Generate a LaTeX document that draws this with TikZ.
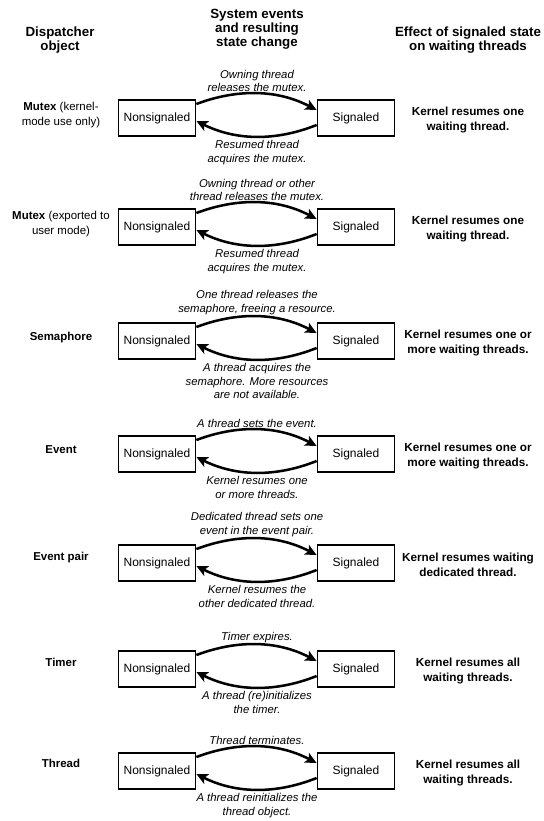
\documentclass[tikz,border=0pt]{standalone}
\usepackage{fontspec}
\setmainfont{Liberation Sans}
\usetikzlibrary{arrows.meta,calc}
\begin{document}
\begin{tikzpicture}[x=0.75pt,y=-0.75pt,
  state/.style={draw,line width=1.1pt,minimum width=58pt,minimum height=27pt,
    inner sep=0pt,font=\fontsize{9}{10}\selectfont},
  head/.style={align=center,font=\fontsize{10}{10.6}\selectfont\bfseries},
  obj/.style={align=center,font=\fontsize{8.6}{11}\selectfont},
  evtext/.style={align=center,inner sep=1.5pt,font=\fontsize{8.5}{10.2}\selectfont\itshape},
  effect/.style={align=center,font=\fontsize{8.8}{11}\selectfont\bfseries},
  trans/.style={line width=1.9pt,-{Stealth[length=8.5pt,width=8pt,inset=2pt]}}
]
\useasboundingbox (0,0) rectangle (543,821);

% column headings
\node[head] (h1) at (60,40) {Dispatcher\\object};
\node[head] (h2) at (257,29) {System events\\and resulting\\state change};
\node[head] (h3) at (468,40) {Effect of signaled state\\on waiting threads};

% one row per dispatcher object
\foreach \i/\c/\dy/\lab/\up/\down/\eff in {
  1/118/-3/{\textbf{Mutex} (kernel-\\mode use only)}/{Owning thread\\releases the mutex.}/{Resumed thread\\acquires the mutex.}/{Kernel resumes one\\waiting thread.},
  2/227/-3/{\textbf{Mutex} (exported to\\user mode)}/{Owning thread or other\\thread releases the mutex.}/{Resumed thread\\acquires the mutex.}/{Kernel resumes one\\waiting thread.},
  3/341/-3/{\textbf{Semaphore}}/{One thread releases the\\semaphore, freeing a resource.}/{A thread acquires the\\semaphore. More resources\\are not available.}/{Kernel resumes one or\\more waiting threads.},
  4/454/-4/{\textbf{Event}}/{A thread sets the event.}/{Kernel resumes one\\or more threads.}/{Kernel resumes one or\\more waiting threads.},
  5/563/-5/{\textbf{Event pair}}/{Dedicated thread sets one\\event in the event pair.}/{Kernel resumes the\\other dedicated thread.}/{Kernel resumes waiting\\dedicated thread.},
  6/669/-7/{\textbf{Timer}}/{Timer expires.}/{A thread (re)initializes\\the timer.}/{Kernel resumes all\\waiting threads.},
  7/771/-8/{\textbf{Thread}}/{Thread terminates.}/{A thread reinitializes the\\thread object.}/{Kernel resumes all\\waiting threads.}}
{
  \node[obj] (o\i) at (61,\c+\dy) {\lab};
  \node[state] (n\i) at (157,\c) {Nonsignaled};
  \node[state] (s\i) at (356,\c) {Signaled};
  \node[effect] (e\i) at (468,\c+2) {\eff};
  \node[evtext,anchor=south] (u\i) at (257,\c-24) {\up};
  \node[evtext,anchor=north] (d\i) at (257,\c+20) {\down};
  % signaling transition (upper arc) and reset transition (lower arc)
  \draw[trans] ($(n\i.east)+(0,-14)$) .. controls ($(n\i.east)+(40,-29)$) and ($(s\i.west)+(-40,-29)$) .. ($(s\i.west)+(0,-8)$);
  \draw[trans] ($(s\i.west)+(0,7)$) .. controls ($(s\i.west)+(-40,23)$) and ($(n\i.east)+(40,23)$) .. ($(n\i.east)+(0,3)$);
}
\end{tikzpicture}
\end{document}
